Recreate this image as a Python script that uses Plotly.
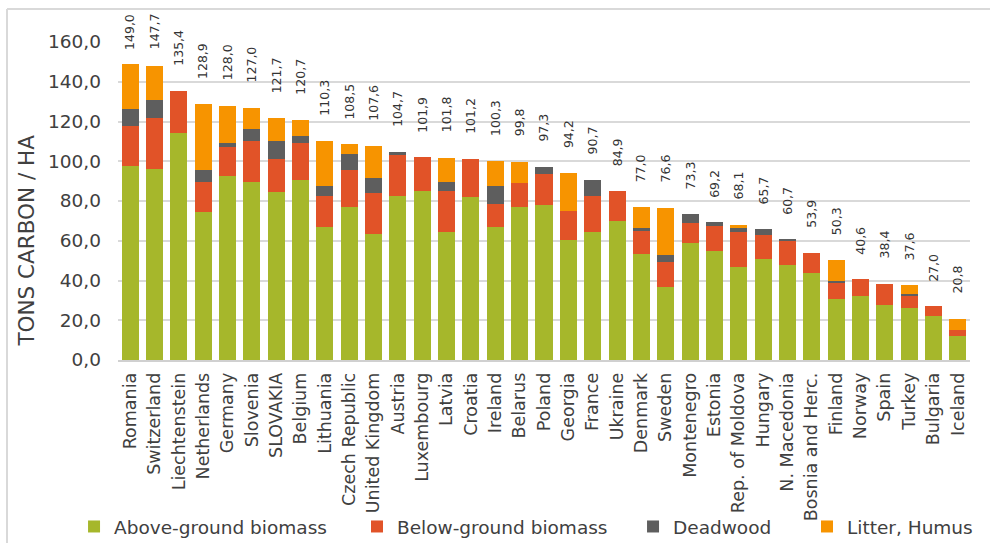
import plotly.graph_objects as go

# Carbon stock per hectare of forest, by country and carbon pool (tons C / ha)
countries = [
    "Romania", "Switzerland", "Liechtenstein", "Netherlands", "Germany",
    "Slovenia", "SLOVAKIA", "Belgium", "Lithuania", "Czech Republic",
    "United Kingdom", "Austria", "Luxembourg", "Latvia", "Croatia",
    "Ireland", "Belarus", "Poland", "Georgia", "France", "Ukraine",
    "Denmark", "Sweden", "Montenegro", "Estonia", "Rep. of Moldova",
    "Hungary", "N. Macedonia", "Bosnia and Herc.", "Finland", "Norway",
    "Spain", "Turkey", "Bulgaria", "Iceland",
]

above_ground = [
    97.6, 96.3, 114.0, 74.5, 92.8, 89.6, 84.3, 90.5, 66.7, 77.0,
    63.2, 82.6, 84.9, 64.3, 81.9, 66.7, 76.9, 78.2, 60.2, 64.3,
    69.8, 53.4, 36.5, 58.9, 54.8, 46.9, 50.6, 48.0, 43.9, 30.5,
    32.3, 27.5, 26.3, 22.1, 12.2,
]
below_ground = [
    20.0, 25.5, 21.4, 15.1, 14.4, 20.6, 16.9, 18.5, 15.7, 18.8,
    20.6, 20.4, 17.0, 20.6, 19.3, 12.0, 12.2, 15.3, 15.0, 18.3,
    15.1, 11.6, 12.7, 9.8, 12.5, 17.4, 12.1, 12.2, 10.0, 8.4,
    8.3, 10.9, 6.2, 4.9, 3.0,
]
deadwood = [
    8.9, 8.9, 0.0, 6.2, 2.0, 6.2, 9.0, 3.7, 5.0, 7.7,
    7.8, 1.7, 0.0, 4.7, 0.0, 8.7, 0.0, 3.8, 0.0, 8.1,
    0.0, 1.3, 3.6, 4.6, 1.9, 1.9, 3.0, 0.5, 0.0, 0.8,
    0.0, 0.0, 0.8, 0.0, 0.0,
]
litter_humus = [
    22.5, 17.0, 0.0, 33.1, 18.8, 10.6, 11.5, 8.0, 22.9, 5.0,
    16.0, 0.0, 0.0, 12.2, 0.0, 12.9, 10.7, 0.0, 19.0, 0.0,
    0.0, 10.7, 23.8, 0.0, 0.0, 1.9, 0.0, 0.0, 0.0, 10.6,
    0.0, 0.0, 4.3, 0.0, 5.6,
]

series = [
    ("Above-ground biomass", above_ground, "#A6B72B"),
    ("Below-ground biomass", below_ground, "#E15328"),
    ("Deadwood", deadwood, "#5E5E5E"),
    ("Litter, Humus", litter_humus, "#F79400"),
]

totals = [round(a + b + d + l, 1) for a, b, d, l in
          zip(above_ground, below_ground, deadwood, litter_humus)]

FONT = "DejaVu Sans"
TEXT = "#404040"

# one single-entry legend per series so the entries can sit at their own x
legend_ids = ["legend", "legend2", "legend3", "legend4"]
legend_x = [-0.0516, 0.2805, 0.6045, 0.8087]

fig = go.Figure()
for (name, values, color), lid in zip(series, legend_ids):
    fig.add_trace(go.Bar(
        name=name, x=countries, y=values,
        marker=dict(color=color, line=dict(width=0)),
        legend=lid, hoverinfo="x+y+name",
    ))

# Total labels above each stack (kept inside the frame near the top)
for c, t in zip(countries, totals):
    fig.add_annotation(
        x=c, y=min(t, 143.5), xref="x", yref="y",
        text=f"{t:.1f}".replace(".", ","),
        textangle=-90, showarrow=False,
        xanchor="center", yanchor="bottom", yshift=23,
        font=dict(family=FONT, size=12.5, color="#333333"),
    )

# Value axis title
fig.add_annotation(
    x=-0.107, y=0.375, xref="paper", yref="paper",
    text="TONS CARBON / HA", textangle=-90, showarrow=False,
    xanchor="center", yanchor="middle",
    font=dict(family=FONT, size=21.5, color=TEXT),
)

# Chart frame (top and left edges)
frame = dict(color="#D9D9D9", width=2)
fig.add_shape(type="line", xref="paper", yref="paper",
              x0=-0.1303, x1=1.05, y0=1.1038, y1=1.1038, line=frame)
fig.add_shape(type="line", xref="paper", yref="paper",
              x0=-0.1303, x1=-0.1303, y0=1.1038, y1=-0.62, line=frame)

legend_style = dict(
    orientation="h", xanchor="left", y=-0.525, yanchor="middle",
    font=dict(family=FONT, size=18.5, color=TEXT),
    itemwidth=30, bgcolor="rgba(0,0,0,0)",
)

fig.update_layout(
    width=990, height=543,
    barmode="stack", bargap=0.3,
    margin=dict(l=118, r=20, t=42, b=183, autoexpand=False),
    plot_bgcolor="white", paper_bgcolor="white",
    separators=",.",
    font=dict(family=FONT, color=TEXT),
    showlegend=True,
    xaxis=dict(
        tickangle=-90, ticks="", showgrid=False, automargin=False,
        showline=True, linecolor="#D0D0D0", linewidth=1.5,
        tickfont=dict(family=FONT, size=17.5, color=TEXT),
        ticklabelstandoff=4,
    ),
    yaxis=dict(
        range=[0, 160], dtick=20, tick0=0, tickformat=".1f",
        automargin=False,
        showgrid=True, gridcolor="#D9D9D9", gridwidth=1.5,
        zeroline=False, showline=False, ticks="",
        tickfont=dict(family=FONT, size=18.5, color=TEXT),
        ticklabelstandoff=16,
    ),
)
for lid, lx in zip(legend_ids, legend_x):
    fig.update_layout({lid: dict(legend_style, x=lx)})

fig.write_html("out.html")
